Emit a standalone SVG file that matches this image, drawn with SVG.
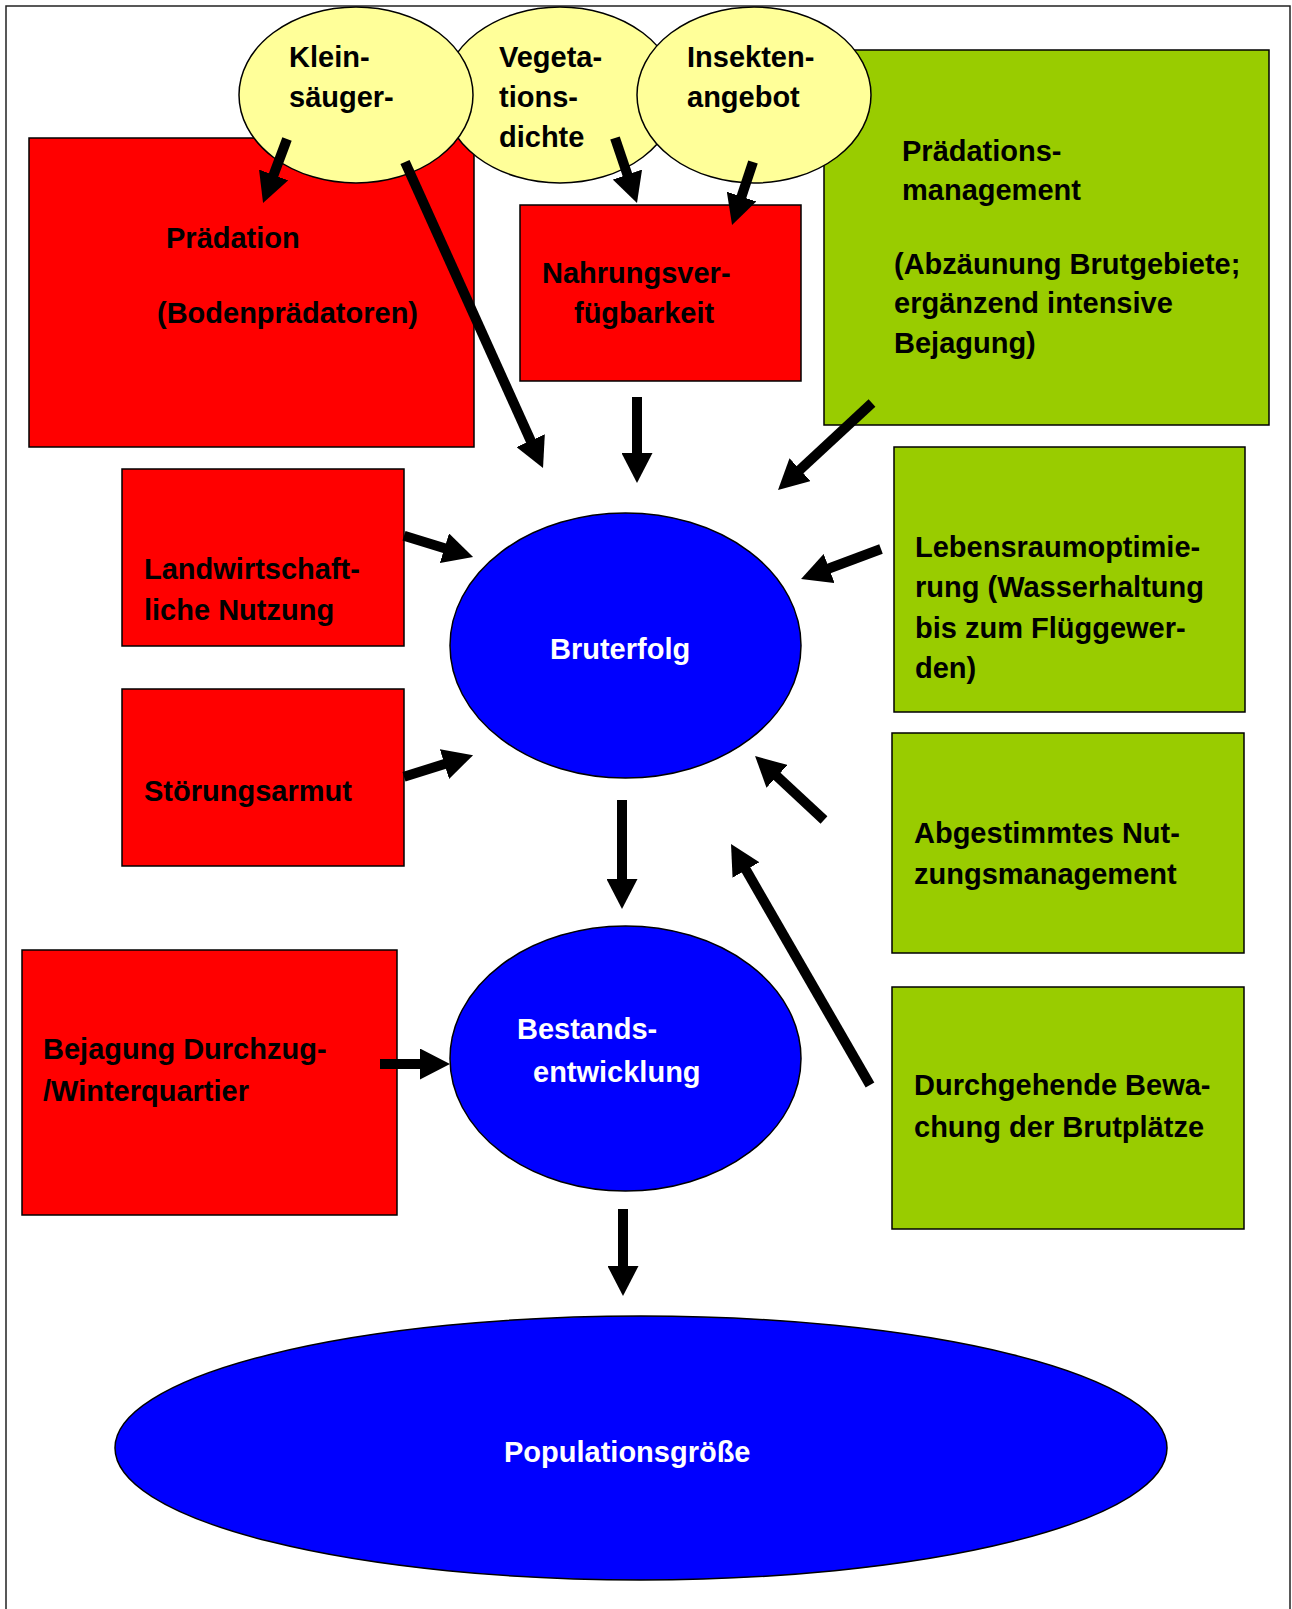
<svg xmlns="http://www.w3.org/2000/svg" width="1292" height="1609" viewBox="0 0 1292 1609">
<defs>
<style>
.red{fill:#FF0000;stroke:#000;stroke-width:1.5}
.grn{fill:#99CC00;stroke:#000;stroke-width:1.5}
.yel{fill:#FFFF99;stroke:#000;stroke-width:1.5}
.blu{fill:#0000FF;stroke:#000;stroke-width:1.5}
text{font-family:"Liberation Sans",Arial,sans-serif;font-weight:bold;font-size:29px;fill:#000}
.w{fill:#FFFFFF}
.arr{stroke:#000;stroke-width:10;fill:none;marker-end:url(#ah)}
</style>
<marker id="ah" markerUnits="userSpaceOnUse" markerWidth="30" markerHeight="31" viewBox="0 0 30 31" refX="1" refY="15.5" orient="auto">
<path d="M0,0 L30,15.5 L0,31 z" fill="#000"/>
</marker>
</defs>
<rect x="0" y="0" width="1292" height="1609" fill="#FFFFFF"/>
<rect id="frame" x="6" y="6" width="1284" height="1630" fill="none" stroke="#222" stroke-width="1.5"/>

<g id="praedation">
<rect class="red" x="29" y="138" width="445" height="309"/>
<text x="166" y="248">Prädation</text>
<text x="157" y="323">(Bodenprädatoren)</text>
</g>
<g id="nahrung">
<rect class="red" x="520" y="205" width="281" height="176"/>
<text x="542" y="283">Nahrungsver-</text>
<text x="574" y="323">fügbarkeit</text>
</g>
<g id="praedationsmanagement">
<rect class="grn" x="824" y="50" width="445" height="375"/>
<text x="902" y="161">Prädations-</text>
<text x="902" y="200">management</text>
<text x="894" y="274">(Abzäunung Brutgebiete;</text>
<text x="894" y="313">ergänzend intensive</text>
<text x="894" y="353">Bejagung)</text>
</g>
<g id="vegetation">
<ellipse class="yel" cx="560" cy="95" rx="117" ry="88"/>
<text x="499" y="67">Vegeta-</text>
<text x="499" y="107">tions-</text>
<text x="499" y="147">dichte</text>
</g>
<g id="kleinsaeuger">
<ellipse class="yel" cx="356" cy="95" rx="117" ry="88"/>
<text x="289" y="67">Klein-</text>
<text x="289" y="107">säuger-</text>
</g>
<g id="insekten">
<ellipse class="yel" cx="754" cy="95" rx="117" ry="88"/>
<text x="687" y="67">Insekten-</text>
<text x="687" y="107">angebot</text>
</g>
<g id="landwirtschaft">
<rect class="red" x="122" y="469" width="282" height="177"/>
<text x="144" y="579">Landwirtschaft-</text>
<text x="144" y="620">liche Nutzung</text>
</g>
<g id="stoerung">
<rect class="red" x="122" y="689" width="282" height="177"/>
<text x="144" y="801">Störungsarmut</text>
</g>
<g id="bruterfolg">
<ellipse class="blu" cx="625.5" cy="645.5" rx="175.5" ry="132.5"/>
<text class="w" x="550" y="659">Bruterfolg</text>
</g>
<g id="lebensraum">
<rect class="grn" x="894" y="447" width="351" height="265"/>
<text x="915" y="557">Lebensraumoptimie-</text>
<text x="915" y="597">rung (Wasserhaltung</text>
<text x="915" y="638">bis zum Flüggewer-</text>
<text x="915" y="678">den)</text>
</g>
<g id="nutzungsmanagement">
<rect class="grn" x="892" y="733" width="352" height="220"/>
<text x="914" y="843">Abgestimmtes Nut-</text>
<text x="914" y="884">zungsmanagement</text>
</g>
<g id="bewachung">
<rect class="grn" x="892" y="987" width="352" height="242"/>
<text x="914" y="1095">Durchgehende Bewa-</text>
<text x="914" y="1137">chung der Brutplätze</text>
</g>
<g id="bejagung">
<rect class="red" x="22" y="950" width="375" height="265"/>
<text x="43" y="1059">Bejagung Durchzug-</text>
<text x="43" y="1101">/Winterquartier</text>
</g>
<g id="bestand">
<ellipse class="blu" cx="625.5" cy="1058.5" rx="175.5" ry="132.5"/>
<text class="w" x="517" y="1039">Bestands-</text>
<text class="w" x="533" y="1082">entwicklung</text>
</g>
<g id="population">
<ellipse class="blu" cx="641" cy="1448" rx="526" ry="132"/>
<text class="w" x="504" y="1462">Populationsgröße</text>
</g>

<g id="connectors">
<line class="arr" x1="287" y1="139" x2="273.2" y2="175.9"/>
<line class="arr" x1="405" y1="162" x2="531.1" y2="441.6"/>
<line class="arr" x1="615" y1="138" x2="627.7" y2="175.5"/>
<line class="arr" x1="753" y1="162" x2="741.2" y2="197.5"/>
<line class="arr" x1="637" y1="397" x2="637" y2="454"/>
<line class="arr" x1="872" y1="403" x2="799.3" y2="470.3"/>
<line class="arr" x1="404" y1="535.7" x2="445.4" y2="548.5"/>
<line class="arr" x1="404" y1="776.7" x2="445.4" y2="763.8"/>
<line class="arr" x1="881" y1="549" x2="828.2" y2="568.8"/>
<line class="arr" x1="824" y1="820" x2="776.3" y2="775.7"/>
<line class="arr" x1="870" y1="1085" x2="745.5" y2="869.1"/>
<line class="arr" x1="622" y1="800" x2="622" y2="880"/>
<line class="arr" x1="380" y1="1064" x2="421" y2="1064"/>
<line class="arr" x1="623" y1="1209" x2="623" y2="1267"/>
</g>
</svg>
